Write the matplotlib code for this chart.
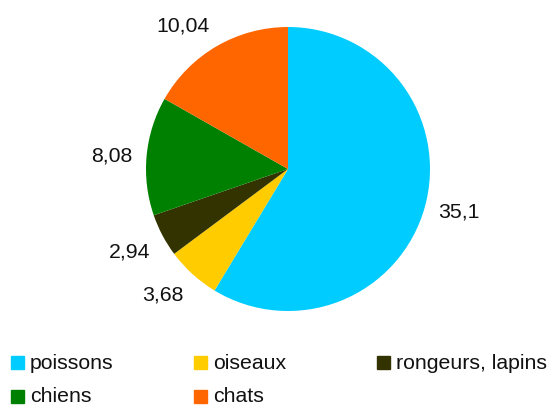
import numpy as np
import matplotlib.pyplot as plt
from matplotlib.patches import Rectangle

plt.rcParams['font.family'] = ['Liberation Sans', 'DejaVu Sans']

# data
categories = ['poissons', 'oiseaux', 'rongeurs, lapins', 'chiens', 'chats']
values = [35.1, 3.68, 2.94, 8.08, 10.04]
value_labels = ['35,1', '3,68', '2,94', '8,08', '10,04']
colors = ['#00ccff', '#ffcc00', '#333300', '#008000', '#ff6600']

W, H = 549, 406
fig = plt.figure(figsize=(W / 100, H / 100), dpi=100)

# pie centred at (288, 170) px with radius 142 px
cx, cy, r = 288, 170, 142
ax = fig.add_axes([(cx - r) / W, (H - cy - r) / H, 2 * r / W, 2 * r / H])
wedges, texts = ax.pie(values, labels=value_labels, colors=colors,
                       startangle=90, counterclock=False, radius=1,
                       labeldistance=1.1,
                       textprops={'fontsize': 15.3, 'color': '#111111'})
ax.set_xlim(-1, 1)
ax.set_ylim(-1, 1)
ax.axis('off')

# put labels outside, anchored by the corner nearest to the pie
for w, t in zip(wedges, texts):
    ang = np.deg2rad((w.theta1 + w.theta2) / 2)
    s = np.sin(ang)
    t.set_ha('left' if np.cos(ang) > 0 else 'right')
    if s > 0.3:
        t.set_va('bottom')
    elif s < -0.3:
        t.set_va('top')
    else:
        t.set_va('center')

# legend drawn by hand: 3 columns, 2 rows
col_x = [11, 194, 377]
row_y = [363.5, 397]
for i, (name, c) in enumerate(zip(categories, colors)):
    x = col_x[i % 3]
    y = row_y[i // 3]
    fig.patches.append(Rectangle((x / W, (H - y - 6.5) / H), 13 / W, 13 / H,
                                 transform=fig.transFigure, color=c))
    fig.text((x + 19) / W, (H - y) / H, name, fontsize=15.3,
             color='#111111', va='center', ha='left')

plt.savefig('out.png', dpi=100)
